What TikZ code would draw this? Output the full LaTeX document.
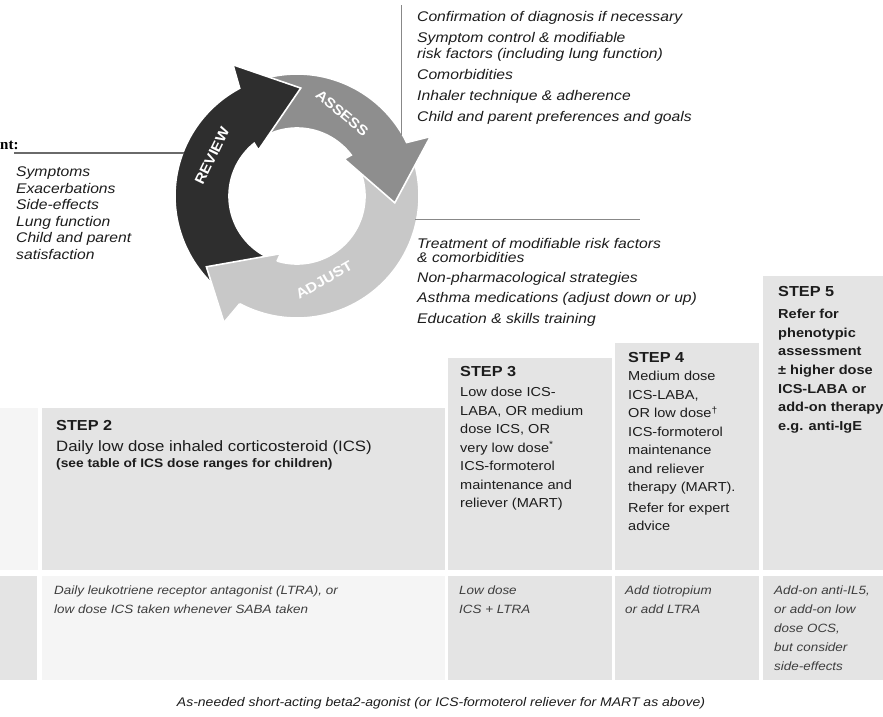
\documentclass[tikz,border=0pt]{standalone}
\usepackage{fontspec}
\setmainfont{Liberation Sans}[FakeStretch=1.12]
\newfontfamily\serifbold{Liberation Serif}
\definecolor{revc}{HTML}{2E2E2E}
\definecolor{assc}{HTML}{8E8E8E}
\definecolor{adjc}{HTML}{C8C8C8}
\definecolor{boxg}{HTML}{E4E4E4}
\definecolor{boxl}{HTML}{F5F5F5}
\definecolor{linec}{HTML}{6A6A6A}
\definecolor{txtc}{HTML}{1C1C1C}
% #1 colour, #2 tail angle, #3 head base angle, #4 tip angle offset, #5 tip radius
\newcommand\ringarrow[5]{%
  \pgfmathsetmacro\rOut{#3-2}%
  \pgfmathsetmacro\rBo{#3-4}%
  \pgfmathsetmacro\rTip{#3-#4}%
  \pgfmathsetmacro\rBi{#3+10}%
  \pgfmathsetmacro\rIn{#3+9}%
  \fill[#1,draw=white,line width=1.6pt,line join=miter]
    plot[domain=#2:\rOut,samples=80] (\x:122) -- (\rBo:146) -- (\rTip:#5)
    -- (\rBi:60) -- (\rIn:68) -- plot[domain=\rIn:#2,samples=80] (\x:68) -- cycle;}
\newcommand\ringhead[4]{%
  \pgfmathsetmacro\rOut{#2-2}%
  \pgfmathsetmacro\rBo{#2-4}%
  \pgfmathsetmacro\rTip{#2-#3}%
  \pgfmathsetmacro\rBi{#2+10}%
  \pgfmathsetmacro\rIn{#2+9}%
  \fill[#1] (\rOut:122) -- (\rBo:146) -- (\rTip:#4) -- (\rBi:60) -- (\rIn:68) -- cycle;
  \draw[white,line width=1.6pt,line join=miter] (\rOut:122) -- (\rBo:146) -- (\rTip:#4) -- (\rBi:60) -- (\rIn:68);}
\begin{document}
\begin{tikzpicture}[x=1pt,y=-1pt,
  listtext/.style={anchor=north west,inner sep=0pt,align=left,text=txtc,
    font=\fontsize{14}{16.5}\selectfont\itshape},
  stephead/.style={anchor=north west,inner sep=0pt,align=left,text=txtc,
    font=\fontsize{14.5}{16}\selectfont\bfseries},
  stepbody/.style={anchor=north west,inner sep=0pt,align=left,text=txtc,
    font=\fontsize{13}{18.5}\selectfont},
  rowtext/.style={anchor=north west,inner sep=0pt,align=left,text=txtc!85,
    font=\fontsize{12}{18.5}\selectfont\itshape},
  ringlabel/.style={text=white,inner sep=0pt,font=\fontsize{14}{15}\selectfont\bfseries},
  rule/.style={linec,line width=1.4pt}]
\useasboundingbox (0,0) rectangle (883,716);

% ---------- cycle ----------
\begin{scope}[shift={(297,196)},yscale=-1]
  \ringarrow{adjc}{386}{244}{26}{115}
  \ringarrow{assc}{117}{28}{32}{98}
  \ringarrow{revc}{241}{120}{32}{108}
  \ringhead{adjc}{244}{26}{115}
\end{scope}
\node[ringlabel,rotate=64] (review) at (212,156) {REVIEW};
\node[ringlabel,rotate=-40] (assess) at (342,113) {ASSESS};
\node[ringlabel,rotate=30] (adjust) at (324,280) {ADJUST};

% ---------- rules ----------
\coordinate (l1) at (14,153);  \coordinate (l2) at (184,153);
\coordinate (v1) at (401,5);   \coordinate (v2) at (401,135);
\coordinate (r1) at (415,219); \coordinate (r2) at (640,219);
\draw[rule] (l1) -- (l2);
\draw[rule,line width=0.8pt,linec!80] (v1) -- (v2);
\draw[rule,line width=0.8pt,linec!80] (r1) -- (r2);

\node[anchor=west,inner sep=0pt,font=\serifbold\fontsize{15}{17}\selectfont\bfseries] (cut) at (0,145) {nt:};

\node[listtext] (reviewlist) at (16,167) {Symptoms\\Exacerbations\\Side-effects\\Lung function\\Child and parent\\satisfaction};

\node[listtext,font=\fontsize{14}{15.8}\selectfont\itshape] (assesslist) at (417,11)
  {Confirmation of diagnosis if necessary\\[5.2pt]
   Symptom control \& modifiable\\risk factors (including lung function)\\[5.2pt]
   Comorbidities\\[5.2pt]
   Inhaler technique \& adherence\\[5.2pt]
   Child and parent preferences and goals};

\node[listtext,font=\fontsize{14}{14}\selectfont\itshape] (adjustlist) at (417,238)
  {Treatment of modifiable risk factors\\\& comorbidities\\[6.3pt]
   Non-pharmacological strategies\\[6.3pt]
   Asthma medications (adjust down or up)\\[6.3pt]
   Education \& skills training};

% ---------- step boxes ----------
\fill[boxl] (0,408) rectangle (38,570);
\fill[boxg] (42,408) rectangle (445,570);
\fill[boxg] (448,358) rectangle (612,570);
\fill[boxg] (615,343) rectangle (759,570);
\fill[boxg] (763,276) rectangle (883,570);
% bottom row
\fill[boxg] (0,576) rectangle (37,680);
\fill[boxl] (42,576) rectangle (445,680);
\fill[boxg] (448,576) rectangle (612,680);
\fill[boxg] (615,576) rectangle (759,680);
\fill[boxg] (763,576) rectangle (883,680);

\node[stephead] (s2h) at (56,420) {STEP 2};
\node[anchor=north west,inner sep=0pt,text=txtc,font=\fontsize{15}{17}\selectfont] (s2a) at (56,440)
  {Daily low dose inhaled corticosteroid (ICS)};
\node[anchor=north west,inner sep=0pt,text=txtc,font=\fontsize{12.3}{14}\selectfont\bfseries] (s2b) at (56,458)
  {(see table of ICS dose ranges for children)};

\node[stephead] (s3h) at (460,366) {STEP 3};
\node[stepbody] (s3b) at (460,387)
  {Low dose ICS-\\LABA, OR medium\\dose ICS, OR\\very low dose\textsuperscript{*}\\ICS-formoterol\\maintenance and\\reliever (MART)};

\node[stephead] (s4h) at (628,352) {STEP 4};
\node[stepbody] (s4b) at (628,371)
  {Medium dose\\ICS-LABA,\\OR low dose\textsuperscript{\dag}\\ICS-formoterol\\maintenance\\and reliever\\therapy (MART).\\[2pt]Refer for expert\\advice};

\node[stephead] (s5h) at (778,286) {STEP 5};
\node[stepbody,font=\fontsize{13}{18.6}\selectfont\bfseries] (s5b) at (778,309)
  {Refer for\\phenotypic\\assessment\\± higher dose\\ICS-LABA or\\add-on therapy\\e.g. anti-IgE};

% ---------- other controller options row ----------
\node[rowtext] (o2) at (54,586)
  {Daily leukotriene receptor antagonist (LTRA), or\\low dose ICS taken whenever SABA taken};
\node[rowtext] (o3) at (459,586) {Low dose\\ICS + LTRA};
\node[rowtext] (o4) at (625,586) {Add tiotropium\\or add LTRA};
\node[rowtext,font=\fontsize{12}{19}\selectfont\itshape] (o5) at (774,586) {Add-on anti-IL5,\\or add-on low\\dose OCS,\\but consider\\side-effects};

\node[inner sep=0pt,text=txtc,font=\fontsize{12.5}{14}\selectfont\itshape] (reliever) at (441,703)
  {As-needed short-acting beta2-agonist (or ICS-formoterol reliever for MART as above)};
\end{tikzpicture}
\end{document}
